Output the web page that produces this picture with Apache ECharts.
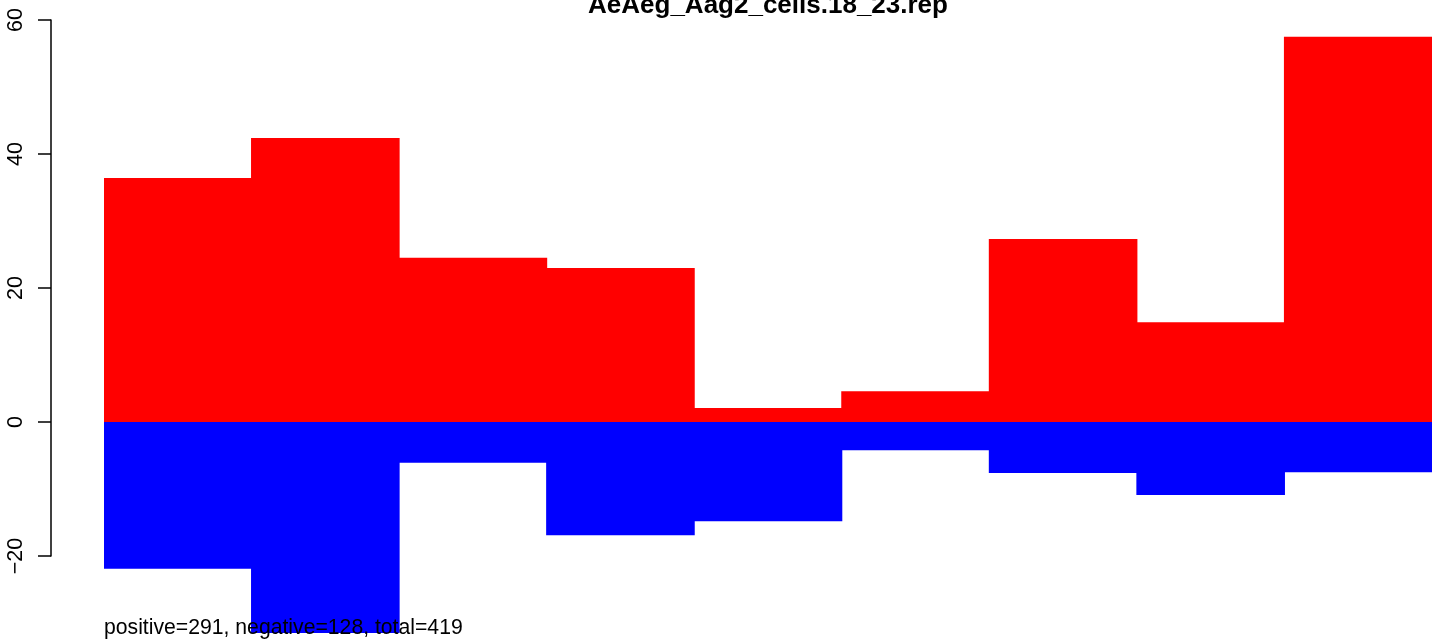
<!DOCTYPE html>
<html>
<head>
<meta charset="utf-8">
<script src="https://cdn.jsdelivr.net/npm/echarts@6/dist/echarts.min.js"></script>
<style>
html,body{margin:0;padding:0;background:#fff;}
#chart{width:1441px;height:640px;}
</style>
</head>
<body>
<div id="chart"></div>
<script>
const chartTitle = 'AeAeg_Aag2_cells.18_23.rep';
const footerText = 'positive=291, negative=128, total=419';
const categories = ['1', '2', '3', '4', '5', '6', '7', '8', '9'];
const positiveValues = [36.4, 42.4, 24.5, 23.0, 2.1, 4.6, 27.3, 14.9, 57.5];
const negativeValues = [-21.9, -31.5, -6.1, -16.9, -14.8, -4.2, -7.6, -10.9, -7.5];
const yTicks = [-20, 0, 20, 40, 60];

const FONT = '"Liberation Sans", Arial, Helvetica, sans-serif';
const chart = echarts.init(document.getElementById('chart'), null, {renderer: 'canvas'});

chart.setOption({
  backgroundColor: '#ffffff',
  animation: false,
  title: [
    {
      text: chartTitle,
      left: 768,
      textAlign: 'center',
      top: -7,
      padding: 0,
      textStyle: {fontFamily: FONT, fontWeight: 'bold', fontSize: 26, color: '#000'}
    },
    {
      text: footerText,
      left: 104,
      top: 618,
      padding: 0,
      textStyle: {fontFamily: FONT, fontWeight: 'normal', fontSize: 21.2, color: '#000'}
    }
  ],
  grid: [
    {left: 104, right: 9, top: 20, height: 616.4, containLabel: false},
    {left: 51, width: 1, top: 20, height: 536, containLabel: false}
  ],
  xAxis: [
    {type: 'category', data: categories, gridIndex: 0, show: false, boundaryGap: true},
    {type: 'value', gridIndex: 1, show: false}
  ],
  yAxis: [
    {type: 'value', gridIndex: 0, min: -32, max: 60, show: false},
    {
      type: 'value', gridIndex: 1, min: yTicks[0], max: yTicks[yTicks.length - 1], interval: 20,
      position: 'left',
      axisLine: {show: true, lineStyle: {color: '#000', width: 1.5}},
      axisTick: {show: true, length: 13, lineStyle: {color: '#000', width: 1.5}},
      splitLine: {show: false},
      axisLabel: {
        show: true, rotate: 90, margin: 24, color: '#000',
        fontFamily: FONT, fontSize: 21.5,
        formatter: function (v) { return yTicks.indexOf(v) >= 0 ? String(v).replace('-', '\u2212') : ''; }
      }
    }
  ],
  series: [
    {
      name: 'positive', type: 'bar', xAxisIndex: 0, yAxisIndex: 0, stack: 'all',
      data: positiveValues, barWidth: 148.6, barGap: '-100%',
      itemStyle: {color: '#ff0000'}, silent: true
    },
    {
      name: 'negative', type: 'bar', xAxisIndex: 0, yAxisIndex: 0, stack: 'all',
      data: negativeValues, barWidth: 148.6, barGap: '-100%',
      itemStyle: {color: '#0000ff'}, silent: true
    }
  ]
});
</script>
</body>
</html>
